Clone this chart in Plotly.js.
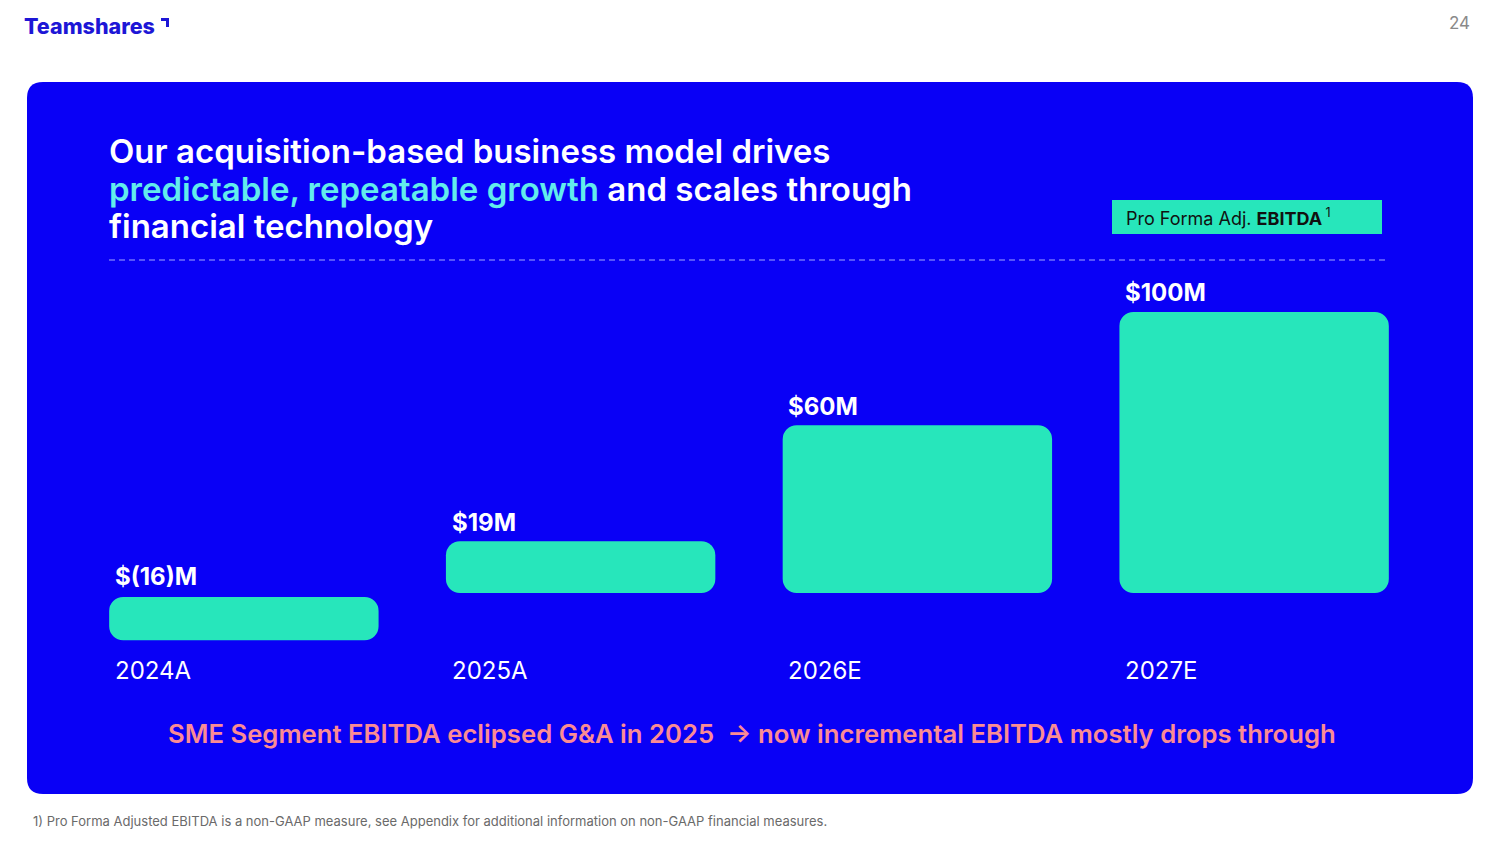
<!DOCTYPE html>
<html>
<head>
<meta charset="utf-8">
<script src="https://cdn.plot.ly/plotly-3.0.1.min.js"></script>
<style>
html,body{margin:0;padding:0;background:#ffffff;}
#chart{width:1500px;height:843px;}
</style>
</head>
<body>
<div id="chart"></div>
<script>
// ---- data ----
const categories = ["2024A", "2025A", "2026E", "2027E"];
const ebitda = [-16, 19, 60, 100];            // Pro Forma Adj. EBITDA, $M
const legendLabel = "Pro Forma Adj. <b>EBITDA</b>&#8201;<sup>1</sup>";

// ---- styling ----
const W = 1500, H = 843;
const PANEL = "#0900f6";
const TEAL = "#27e6bb";
const FONT = "Inter, 'Noto Sans', sans-serif";
const px = x => x / W;
const py = y => 1 - y / H;

function roundRect(x0, y0, x1, y1, r) {
  const X = v => px(v).toFixed(5), Y = v => py(v).toFixed(5);
  return `M${X(x0 + r)},${Y(y0)} L${X(x1 - r)},${Y(y0)} Q${X(x1)},${Y(y0)} ${X(x1)},${Y(y0 + r)} ` +
         `L${X(x1)},${Y(y1 - r)} Q${X(x1)},${Y(y1)} ${X(x1 - r)},${Y(y1)} ` +
         `L${X(x0 + r)},${Y(y1)} Q${X(x0)},${Y(y1)} ${X(x0)},${Y(y1 - r)} ` +
         `L${X(x0)},${Y(y0 + r)} Q${X(x0)},${Y(y0)} ${X(x0 + r)},${Y(y0)} Z`;
}

// zero at y≈595px, 100 at y≈312px
const pxPerUnit = (595 - 312) / 100;
const gapUnits = 2 / pxPerUnit;   // small visual gap either side of zero

// floating bars (with a base) get rounded corners at both ends
const bars = {
  type: "bar", x: categories,
  base: ebitda.map(v => Math.sign(v) * gapUnits),
  y: ebitda.map(v => v - Math.sign(v) * gapUnits),
  marker: { color: TEAL, cornerradius: 14, line: { width: 0 } },
  hoverinfo: "skip", showlegend: false
};

const fmt = v => v < 0 ? "$(" + (-v) + ")M" : "$" + v + "M";

const annotations = [];
categories.forEach((c, i) => {
  annotations.push({
    x: c, xref: "x", y: Math.max(ebitda[i], 0), yref: "y",
    xanchor: "left", yanchor: "middle", xshift: -131, yshift: 19,
    text: fmt(ebitda[i]), showarrow: false,
    font: { family: FONT, size: 24, color: "#ffffff", weight: 700 }
  });
  annotations.push({
    x: c, xref: "x", y: py(670), yref: "paper",
    xanchor: "left", yanchor: "middle", xshift: -131,
    text: c, showarrow: false,
    font: { family: FONT, size: 24, color: "#ffffff", weight: 400 }
  });
});

// title, one annotation per line
const titleLines = [
  "Our acquisition-based business model drives",
  "<span style='color:#62ecec'>predictable, repeatable growth</span> and scales through",
  "financial technology"
];
const titleY = [151, 188.5, 226];
titleLines.forEach((t, i) => {
  annotations.push({
    x: px(107), xref: "paper", y: py(titleY[i]), yref: "paper",
    xanchor: "left", yanchor: "middle", align: "left",
    text: t, showarrow: false,
    font: { family: FONT, size: 33, color: "#ffffff", weight: 600 }
  });
});
// legend label
annotations.push({
  x: px(1124), xref: "paper", y: py(217), yref: "paper",
  xanchor: "left", yanchor: "middle",
  text: legendLabel, showarrow: false,
  font: { family: FONT, size: 18, color: "#111111" }
});
// subtitle
annotations.push({
  x: px(752), xref: "paper", y: py(733), yref: "paper",
  xanchor: "center", yanchor: "middle",
  text: "SME Segment EBITDA eclipsed G&A in 2025  → now incremental EBITDA mostly drops through",
  showarrow: false,
  font: { family: FONT, size: 25.7, color: "#fb8b94", weight: 600 }
});
// footnote
annotations.push({
  x: px(31), xref: "paper", y: py(821), yref: "paper",
  xanchor: "left", yanchor: "middle",
  text: "1) Pro Forma Adjusted EBITDA is a non-GAAP measure, see Appendix for additional information on non-GAAP financial measures.",
  showarrow: false,
  font: { family: FONT, size: 13, color: "#6a6a6a" }
});
// logo
annotations.push({
  x: px(22), xref: "paper", y: py(26), yref: "paper",
  xanchor: "left", yanchor: "middle",
  text: "Teamshares", showarrow: false,
  font: { family: FONT, size: 21.5, color: "#1d16d6", weight: 800 }
});
// page number
annotations.push({
  x: px(1472), xref: "paper", y: py(23), yref: "paper",
  xanchor: "right", yanchor: "middle",
  text: "24", showarrow: false,
  font: { family: FONT, size: 17, color: "#8a8a8a" }
});

const shapes = [
  { type: "path", xref: "paper", yref: "paper", path: roundRect(27, 82, 1473, 794, 16),
    fillcolor: PANEL, line: { width: 0 }, layer: "below" },
  { type: "line", xref: "paper", yref: "paper", x0: px(109), x1: px(1389), y0: py(260), y1: py(260),
    line: { color: "rgba(190,196,255,0.85)", width: 1.2, dash: "6px,4px" }, layer: "below" },
  { type: "rect", xref: "paper", yref: "paper", x0: px(1112), x1: px(1382), y0: py(200), y1: py(234),
    fillcolor: TEAL, line: { width: 0 }, layer: "below" },
  // logo corner mark
  { type: "path", xref: "paper", yref: "paper",
    path: `M${px(161)},${py(18)} L${px(169)},${py(18)} L${px(169)},${py(27)} L${px(166)},${py(27)} L${px(166)},${py(21)} L${px(161)},${py(21)} Z`,
    fillcolor: "#1d16d6", line: { width: 0 } }
];

const yTop = 300, yBot = 650;
const layout = {
  width: W, height: H,
  margin: { l: 0, r: 0, t: 0, b: 0 },
  paper_bgcolor: "#ffffff", plot_bgcolor: "rgba(0,0,0,0)",
  bargap: 0.2,
  showlegend: false,
  xaxis: { domain: [px(75.5), px(1422.5)], showticklabels: false, showgrid: false,
           zeroline: false, showline: false, ticks: "", fixedrange: true },
  yaxis: { domain: [py(yBot), py(yTop)],
           range: [-(yBot - 595) / pxPerUnit, (595 - yTop) / pxPerUnit],
           showticklabels: false, showgrid: false, zeroline: false, showline: false,
           ticks: "", fixedrange: true },
  shapes: shapes,
  annotations: annotations,
  font: { family: FONT }
};

Plotly.newPlot("chart", [bars], layout, { displayModeBar: false, staticPlot: true });
</script>
</body>
</html>
